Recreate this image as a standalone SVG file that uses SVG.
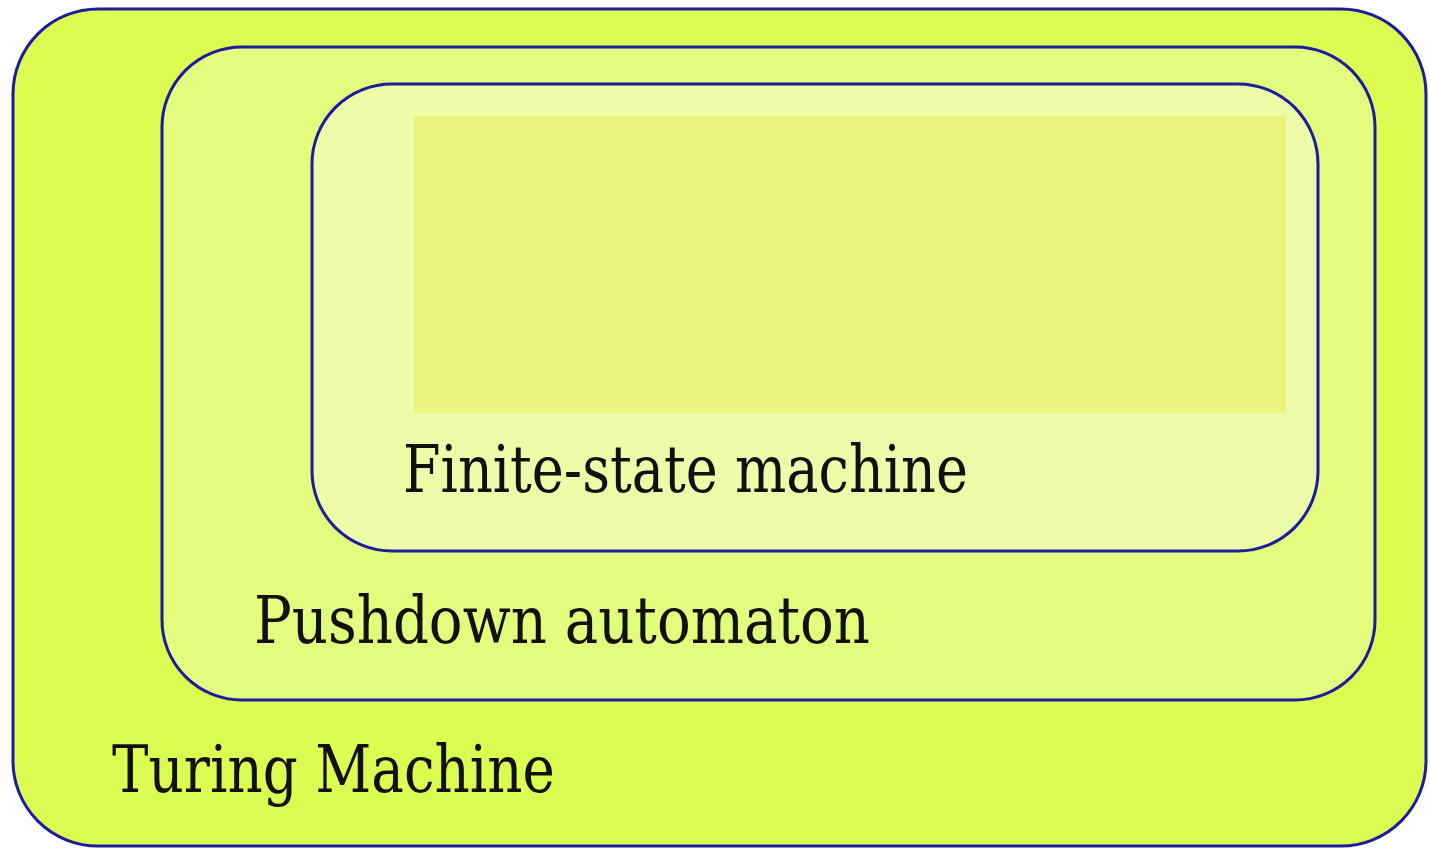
<svg xmlns="http://www.w3.org/2000/svg" width="1430" height="849" viewBox="0 0 1430 849">
  <style>
    .box { stroke: #1c1c9c; stroke-width: 3; }
    .label { font-family: "DejaVu Serif", "Liberation Serif", serif; font-size: 66px; fill: #111; }
  </style>
  <rect width="1430" height="849" fill="#ffffff"/>
  <g id="turing-machine">
    <rect class="box" x="13" y="9" width="1413" height="837" rx="85" ry="85" fill="#dcfc52"/>
    <text class="label" x="112" y="792" textLength="443" lengthAdjust="spacingAndGlyphs">Turing Machine</text>
  </g>
  <g id="pushdown-automaton">
    <rect class="box" x="162" y="47" width="1213" height="653" rx="80" ry="80" fill="#e3fc7e"/>
    <text class="label" x="254" y="643" textLength="616" lengthAdjust="spacingAndGlyphs">Pushdown automaton</text>
  </g>
  <g id="finite-state-machine">
    <rect class="box" x="312" y="84" width="1006" height="467" rx="80" ry="80" fill="#ecfca8"/>
    <rect x="414" y="116" width="872" height="297" fill="#ecf47e"/>
    <text class="label" x="403" y="492" textLength="565" lengthAdjust="spacingAndGlyphs">Finite-state machine</text>
  </g>
</svg>
